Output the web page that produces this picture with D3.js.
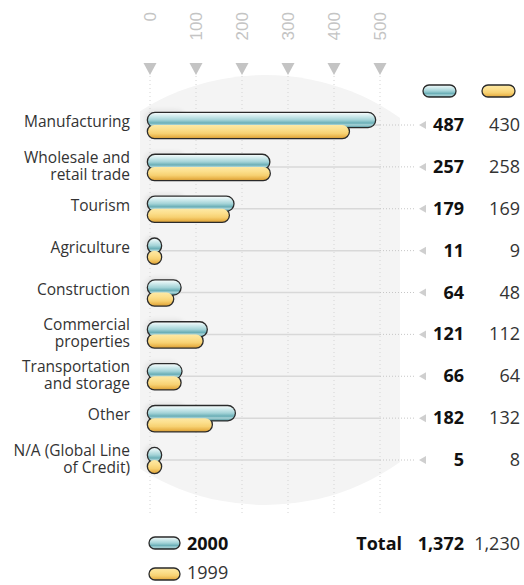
<!DOCTYPE html>
<html><head><meta charset="utf-8">
<script src="https://cdn.jsdelivr.net/npm/d3@7"></script>
<style>
html,body{margin:0;padding:0;background:#fff;}
svg{display:block;font-family:"Open Sans","Noto Sans",sans-serif;}
</style></head>
<body><svg id="c" width="524" height="585"></svg>
<script>
const categories = [
  ["Manufacturing"],
  ["Wholesale and","retail trade"],
  ["Tourism"],
  ["Agriculture"],
  ["Construction"],
  ["Commercial","properties"],
  ["Transportation","and storage"],
  ["Other"],
  ["N/A (Global Line","of Credit)"]
];
const values2000 = [487,257,179,11,64,121,66,182,5];
const values1999 = [430,258,169,9,48,112,64,132,8];
const tickValues = [0,100,200,300,400,500];
const seriesNames = ["2000","1999"];
const totalLabel = "Total";
const totals = ["1,372","1,230"];

const svg = d3.select("#c");
const defs = svg.append("defs");
const gb = defs.append("linearGradient").attr("id","gBlue").attr("x1",0).attr("y1",0).attr("x2",0).attr("y2",1);
[[0,"#f4fbfb"],[0.2,"#d3ecee"],[0.5,"#a3d3d7"],[0.72,"#6aaeb6"],[0.85,"#a9d4d8"],[1,"#5e9fa7"]]
  .forEach(s=>gb.append("stop").attr("offset",s[0]).attr("stop-color",s[1]));
const gy = defs.append("linearGradient").attr("id","gYel").attr("x1",0).attr("y1",0).attr("x2",0).attr("y2",1);
[[0,"#fde9a6"],[0.35,"#fcdf8c"],[0.65,"#f7d172"],[0.88,"#eab54c"],[1,"#d9a23c"]]
  .forEach(s=>gy.append("stop").attr("offset",s[0]).attr("stop-color",s[1]));
const fills = ["url(#gBlue)","url(#gYel)"];
const sh = defs.append("filter").attr("id","soft").attr("x","-20%").attr("y","-50%").attr("width","140%").attr("height","200%");
sh.append("feGaussianBlur").attr("stdDeviation",2.5);

const x = d3.scaleLinear().domain([0,500]).range([150,380]);
const rowKeys = categories.map(c=>c.join(" "));
const y = d3.scalePoint().domain(rowKeys).range([125,460]);

// background shape: ellipse clipped to a band
defs.append("clipPath").attr("id","bandClip").append("rect")
  .attr("x",140).attr("y",0).attr("width",260).attr("height",585);
svg.append("ellipse").attr("cx",265).attr("cy",290).attr("rx",225).attr("ry",215)
  .attr("fill","#f4f4f4").attr("clip-path","url(#bandClip)");

// axis
const axis = d3.axisTop(x).tickValues(tickValues).tickSize(0).tickFormat(d3.format("d"));
const ax = svg.append("g").attr("transform","translate(0,12)").call(axis);
ax.select(".domain").remove();
ax.selectAll(".tick text")
  .attr("transform","rotate(-90)")
  .attr("x",0).attr("y",0).attr("dy","0.35em")
  .attr("text-anchor","end")
  .attr("fill","#c4c4c4").style("font-size","17px");

// triangles + vertical dotted gridlines
const vg = svg.append("g");
vg.selectAll("line").data(tickValues).join("line")
  .attr("x1",d=>x(d)).attr("x2",d=>x(d)).attr("y1",76).attr("y2",515)
  .attr("stroke","#d4d4d4").attr("stroke-width",1).attr("stroke-dasharray","1,3");
vg.selectAll("path").data(tickValues).join("path")
  .attr("d",d=>`M${x(d)-6.5},63 L${x(d)+6.5},63 L${x(d)},75 Z`)
  .attr("fill","#c4c4c4");

// row lines
const rows = svg.append("g");
rows.selectAll("line.solid").data(rowKeys).join("line").attr("class","solid")
  .attr("x1",x(0)).attr("x2",x(500)).attr("y1",d=>y(d)).attr("y2",d=>y(d))
  .attr("stroke","#d8d8d8").attr("stroke-width",1.5);
rows.selectAll("line.dot").data(rowKeys).join("line").attr("class","dot")
  .attr("x1",x(500)).attr("x2",414).attr("y1",d=>y(d)).attr("y2",d=>y(d))
  .attr("stroke","#c6c6c6").attr("stroke-width",1).attr("stroke-dasharray","1,2");
rows.selectAll("path").data(rowKeys).join("path")
  .attr("d",d=>`M419,${y(d)} L426,${y(d)-4} L426,${y(d)+4} Z`)
  .attr("fill","#cfcfcf");

// bars: merged outline (strokes first, fills on top)
const barH = 13;
function capsuleBox(v, key, k){
  const left = x(0)-2;
  const right = Math.max(x(v)+1, left+barH);
  const top = k===0 ? y(key)-12 : y(key);
  const h = k===0 ? barH+1 : barH;
  return {left, right, top, h};
}
const bars = svg.append("g");
rowKeys.forEach((key,i)=>{
  const b = capsuleBox(Math.max(values2000[i],values1999[i]), key, 0);
  bars.append("rect").attr("x",b.left-3).attr("y",b.top-3).attr("width",Math.min(40,b.right-b.left)).attr("height",24)
    .attr("rx",8).attr("fill","#000").attr("opacity",0.07).attr("filter","url(#soft)");
});
rowKeys.forEach((key,i)=>{
  const g = bars.append("g");
  const vs = [values2000[i], values1999[i]];
  vs.forEach((v,k)=>{
    const b = capsuleBox(v, key, k);
    g.append("rect").attr("x",b.left).attr("y",b.top).attr("width",b.right-b.left).attr("height",b.h)
      .attr("rx",b.h/2).attr("ry",b.h/2)
      .attr("fill","#2a2a2a").attr("stroke","#2a2a2a").attr("stroke-width",2.6);
  });
  vs.forEach((v,k)=>{
    const b = capsuleBox(v, key, k);
    g.append("rect").attr("x",b.left).attr("y",b.top).attr("width",b.right-b.left).attr("height",b.h)
      .attr("rx",b.h/2).attr("ry",b.h/2)
      .attr("fill",fills[k]);
  });
});

// category labels
const lab = svg.append("g").attr("text-anchor","end").attr("fill","#333").style("font-size","15.5px");
categories.forEach((c,i)=>{
  const yy = y(rowKeys[i]);
  if(c.length===1){
    lab.append("text").attr("x",130).attr("y",yy+2).text(c[0]);
  } else {
    lab.append("text").attr("x",130).attr("y",yy-4).text(c[0]);
    lab.append("text").attr("x",130).attr("y",yy+13).text(c[1]);
  }
});

// values
const vals = svg.append("g").attr("text-anchor","end").style("font-size","18px");
vals.selectAll("text.v0").data(values2000).join("text").attr("class","v0")
  .attr("x",464).attr("y",(d,i)=>y(rowKeys[i])+6)
  .attr("font-weight","bold").attr("fill","#111").text(d=>d);
vals.selectAll("text.v1").data(values1999).join("text").attr("class","v1")
  .attr("x",520).attr("y",(d,i)=>y(rowKeys[i])+6)
  .attr("fill","#333").text(d=>d);

// swatches
function swatch(xx,yy,w,h,k){
  svg.append("rect").attr("x",xx).attr("y",yy).attr("width",w).attr("height",h)
    .attr("rx",h/2).attr("ry",h/2).attr("fill",fills[k]).attr("stroke","#2a2a2a").attr("stroke-width",1.3);
}
swatch(423,85,33,12,0);
swatch(482,85,33,12,1);

// bottom legend
swatch(149,537,31,12,0);
swatch(149,568,31,12,1);
svg.append("text").attr("x",187).attr("y",550).attr("font-weight","bold").attr("fill","#111")
  .style("font-size","18px").text(seriesNames[0]);
svg.append("text").attr("x",187).attr("y",579).attr("fill","#333")
  .style("font-size","18px").text(seriesNames[1]);

// totals
const tg = svg.append("g").style("font-size","18px").attr("text-anchor","end");
tg.append("text").attr("x",402).attr("y",550).attr("font-weight","bold").attr("fill","#111").text(totalLabel);
tg.append("text").attr("x",464).attr("y",550).attr("font-weight","bold").attr("fill","#111").text(totals[0]);
tg.append("text").attr("x",520).attr("y",550).attr("fill","#333").text(totals[1]);
</script>
</body></html>
